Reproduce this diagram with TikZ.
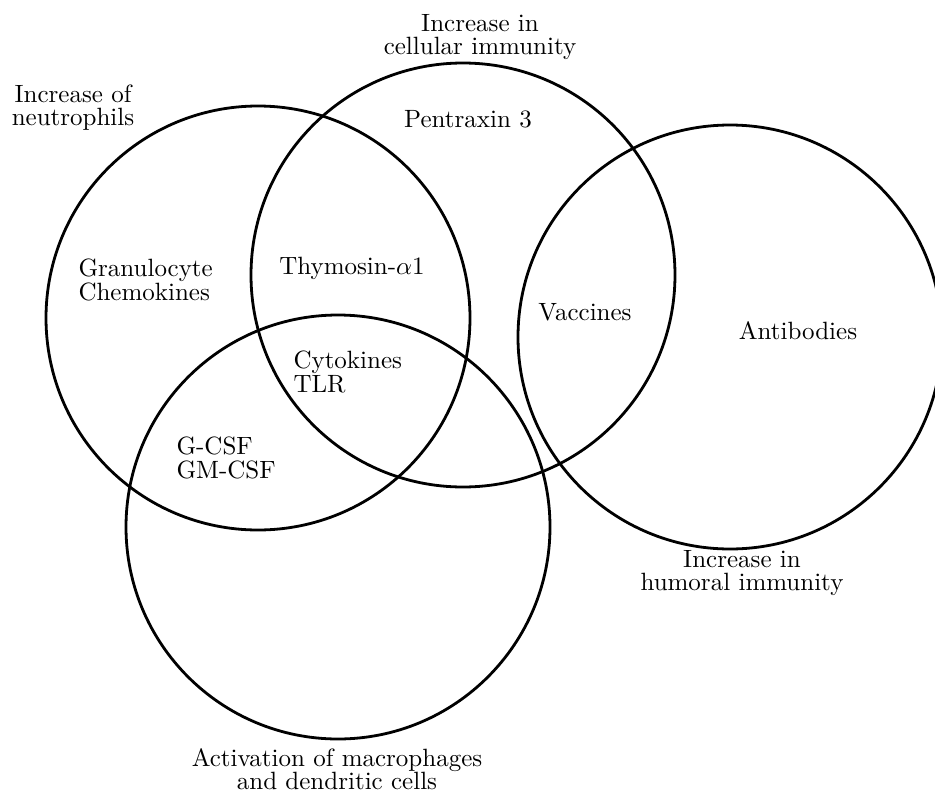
\documentclass[tikz,border=0pt]{standalone}
\usepackage{tikz}

\begin{document}
\begin{tikzpicture}[x=1pt,y=-1pt,
  set/.style={black,line width=2.8pt},
  label/.style={inner sep=0pt,align=center,scale=2.5,transform shape,font=\fontsize{10}{9.2}\selectfont},
  item/.style={inner sep=0pt,align=left,scale=2.5,transform shape,font=\fontsize{10}{9.6}\selectfont}]
\useasboundingbox (0,0) rectangle (935,793);
\clip (0,0) rectangle (935,793);

% the four sets
\draw[set] (258,318) circle[radius=212];
\draw[set] (463,275) circle[radius=212];
\draw[set] (730,337) circle[radius=212];
\draw[set] (338,527) circle[radius=212];

% set labels
\node[label](neutro) at (73,108) {Increase of\\neutrophils};
\node[label](cellular) at (480,37) {Increase in\\cellular immunity};
\node[label](humoral) at (742,573) {Increase in\\humoral immunity};
\node[label](macro) at (337,769) {Activation of macrophages\\and dendritic cells};

% items
\node[item](ptx) at (468,119) {Pentraxin 3};
\node[item,anchor=west](gran) at (78,280) {Granulocyte\\Chemokines};
\node[item](thy) at (352,268) {Thymosin-$\alpha$1};
\node[item,anchor=west](cyto) at (293,372) {Cytokines\\TLR};
\node[item,anchor=west](csf) at (176,458) {G-CSF\\GM-CSF};
\node[item](vac) at (585,312) {Vaccines};
\node[item](ab) at (798,331) {Antibodies};
\end{tikzpicture}
\end{document}
